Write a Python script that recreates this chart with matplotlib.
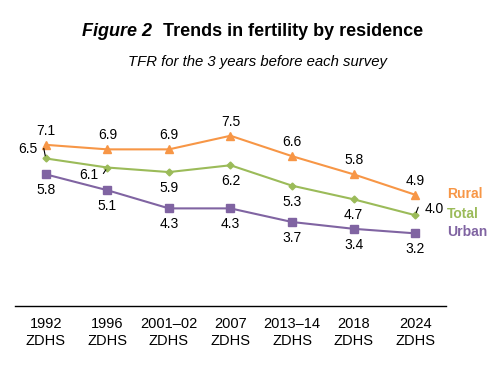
import matplotlib.pyplot as plt

plt.rcParams["font.family"] = ["Liberation Sans", "DejaVu Sans"]

surveys = ["1992\nZDHS", "1996\nZDHS", "2001\u201302\nZDHS", "2007\nZDHS",
           "2013\u201314\nZDHS", "2018\nZDHS", "2024\nZDHS"]
rural = [7.1, 6.9, 6.9, 7.5, 6.6, 5.8, 4.9]
total = [6.5, 6.1, 5.9, 6.2, 5.3, 4.7, 4.0]
urban = [5.8, 5.1, 4.3, 4.3, 3.7, 3.4, 3.2]

c_rural = "#F79646"
c_total = "#9BBB59"
c_urban = "#8064A2"

fig = plt.figure(figsize=(5.02, 3.65), dpi=100)
ax = fig.add_axes([15 / 502, 59 / 365, 431 / 502, 227 / 365])
x = list(range(len(surveys)))

ax.plot(x, rural, color=c_rural, lw=1.5, marker="^", ms=6, clip_on=False)
ax.plot(x, total, color=c_total, lw=1.5, marker="D", ms=3.5, clip_on=False)
ax.plot(x, urban, color=c_urban, lw=1.5, marker="s", ms=5.5, clip_on=False)

ax.set_xlim(-0.5, 6.5)
ax.set_ylim(0, 10)
for s in ["top", "left", "right"]:
    ax.spines[s].set_visible(False)
ax.spines["bottom"].set_linewidth(1.0)
ax.set_yticks([])
ax.set_xticks(x)
ax.set_xticklabels(surveys, fontsize=10.5, linespacing=1.3)
ax.tick_params(axis="x", length=0, pad=8)


def label(xi, yi, txt, dx, dy):
    ax.annotate(txt, (xi, yi), xytext=(dx, dy), textcoords="offset pixels",
                ha="center", va="center", fontsize=10, color="black")


# rural labels above
for i, v in enumerate(rural):
    label(i, v, f"{v:.1f}", 0, 14)

# total labels, most below, a few moved with leader lines
for i, v in enumerate(total):
    if i == 0:
        label(i, v, f"{v:.1f}", -18, 9)
    elif i == 1:
        label(i, v, f"{v:.1f}", -19, -7)
    elif i == 6:
        label(i, v, f"{v:.1f}", 19, 6)
    else:
        label(i, v, f"{v:.1f}", 0, -16)

# leader lines for moved total labels
ax.annotate("", (0, total[0]), xytext=(-2, 10), textcoords="offset pixels",
            arrowprops=dict(arrowstyle="-", color="black", lw=0.8, shrinkA=0, shrinkB=2))
ax.annotate("", (1, total[1]), xytext=(-4, -6), textcoords="offset pixels",
            arrowprops=dict(arrowstyle="-", color="black", lw=0.8, shrinkA=0, shrinkB=2))
ax.annotate("", (6, total[6]), xytext=(3, 8), textcoords="offset pixels",
            arrowprops=dict(arrowstyle="-", color="black", lw=0.8, shrinkA=0, shrinkB=2))

# urban labels below
for i, v in enumerate(urban):
    label(i, v, f"{v:.1f}", 0, -16)

# series names at the right end
for vals, name, col in [(rural, "Rural", c_rural), (total, "Total", c_total), (urban, "Urban", c_urban)]:
    ax.annotate(name, (6, vals[-1]), xytext=(32, 1), textcoords="offset pixels",
                ha="left", va="center", fontsize=10, fontweight="bold", color=col,
                annotation_clip=False)

fig.text(152 / 502, 1 - 31 / 365, "Figure 2", ha="right", va="center",
         fontsize=13, fontweight="bold", fontstyle="italic")
fig.text(163 / 502, 1 - 31 / 365, "Trends in fertility by residence", ha="left", va="center",
         fontsize=13, fontweight="bold")
fig.text(258 / 502, 1 - 62 / 365, "TFR for the 3 years before each survey", ha="center",
         va="center", fontsize=10.7, fontstyle="italic")

fig.savefig("out.png", dpi=100)
